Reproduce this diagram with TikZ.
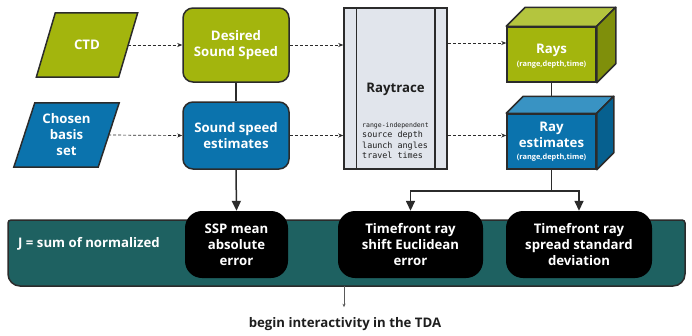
\documentclass[tikz,border=0pt]{standalone}
\usepackage{fontspec}
\setmainfont{Open Sans}
\setmonofont{DejaVu Sans Mono}
\usetikzlibrary{arrows.meta,calc}

\definecolor{olive}{HTML}{A3B50D}
\definecolor{olivetop}{HTML}{B4C53E}
\definecolor{oliveside}{HTML}{7F8F0B}
\definecolor{ocean}{HTML}{0B73AD}
\definecolor{oceantop}{HTML}{3993C3}
\definecolor{oceanside}{HTML}{06608F}
\definecolor{teal}{HTML}{1E6161}
\definecolor{paper}{HTML}{E1E5EC}
\definecolor{linec}{HTML}{2B2B2B}
\definecolor{labelc}{HTML}{1E1E1E}
\newcommand{\raynote}{\bfseries\fontsize{7.4}{9}\selectfont}

\begin{document}
\begin{tikzpicture}[x=1pt,y=-1pt,
  wire/.style={draw=linec, line width=1.5pt},
  dasharrow/.style={draw=linec, line width=0.7pt, dash pattern=on 3pt off 2pt,
    -{Stealth[length=5pt,width=4pt]}},
  solidarrow/.style={draw=linec, line width=1.5pt, -{Triangle[length=10pt,width=9pt]}},
  frame/.style={inner sep=0pt, text=white, align=center,
    font=\bfseries\fontsize{13.2}{16}\selectfont},
  roundbox/.style={frame, draw=linec, line width=1.5pt, rounded corners=10pt,
    minimum width=106pt},
  slantbox/.style={frame, minimum height=64pt},
  cubeface/.style={frame, draw=linec, line width=1.5pt, minimum width=89pt},
  cubeedge/.style={draw=linec, line width=1.5pt, line join=round},
  metric/.style={frame, fill=black, rounded corners=17pt, minimum height=67pt},
]
\useasboundingbox (0,0) rectangle (692,335);

% --- input parallelograms ---
\node[slantbox, minimum width=82pt] (ctd) at (87,45) {};
\path[fill=olive, draw=linec, line width=1.5pt]
  ([xshift=9.5pt]ctd.north west) -- ([xshift=9.5pt]ctd.north east)
  -- ([xshift=-9.5pt]ctd.south east) -- ([xshift=-9.5pt]ctd.south west) -- cycle;
\node[frame] at (ctd) {CTD};

\node[slantbox, minimum width=84pt] (basis) at (66.5,135) {};
\path[fill=ocean, draw=linec, line width=1.5pt]
  ([xshift=10.5pt]basis.north west) -- ([xshift=10.5pt]basis.north east)
  -- ([xshift=-10.5pt]basis.south east) -- ([xshift=-10.5pt]basis.south west) -- cycle;
\node[frame] at (basis) {Chosen\\basis\\set};

% --- sound speed boxes ---
\node[roundbox, fill=olive, minimum height=74pt] (desired) at (236,45) {Desired\\Sound Speed};
\node[roundbox, fill=ocean, minimum height=67pt] (estim) at (236,135.5) {Sound speed\\estimates};
\draw[wire] (desired.south) -- (estim.north);

% --- ray tracer ---
\node[draw=linec, line width=1.5pt, fill=paper, minimum width=103pt,
  minimum height=161pt, inner sep=0pt] (trace) at (395.5,88.5) {};
\draw[wire] ([xshift=13pt]trace.north west) -- ([xshift=13pt]trace.south west);
\draw[wire] ([xshift=-13pt]trace.north east) -- ([xshift=-13pt]trace.south east);
\node[frame, text=labelc] (tracelabel) at (395.5,89) {Raytrace};
\node[anchor=north west, inner sep=0pt, align=left, text=labelc,
  font=\ttfamily\fontsize{8.4}{10.5}\selectfont] (traceinfo) at (362,122)
  {{\fontsize{6.5}{8}\selectfont range-independent}\\source depth\\launch angles\\travel times};

% --- output cuboids ---
\node[cubeface, fill=olive, minimum height=55pt] (rays) at (551.5,54.5) {};
\path[fill=olivetop, cubeedge] (rays.north west) -- ++(19,-19)
  -- ($(rays.north east)+(19,-19)$) -- (rays.north east) -- cycle;
\path[fill=oliveside, cubeedge] (rays.north east) -- ++(19,-19)
  -- ($(rays.south east)+(19,-19)$) -- (rays.south east) -- cycle;
\node[cubeface, minimum height=55pt] at (rays) {};
\node[frame] at ([yshift=-2pt]rays.center) {Rays\\[-3pt]
  {\raynote (range,depth,time)}};

\node[cubeface, fill=ocean, minimum height=55pt] (rayest) at (551.5,141.5) {};
\path[fill=oceantop, cubeedge] (rayest.north west) -- ++(17,-17)
  -- ($(rayest.north east)+(17,-17)$) -- (rayest.north east) -- cycle;
\path[fill=oceanside, cubeedge] (rayest.north east) -- ++(17,-17)
  -- ($(rayest.south east)+(17,-17)$) -- (rayest.south east) -- cycle;
\node[cubeface, minimum height=55pt] at (rayest) {};
\node[frame] at (rayest) {Ray\\estimates\\[-4pt]
  {\raynote (range,depth,time)}};
\draw[wire] (rays.south) -- ($(rayest.north)+(0,-17)$);

% --- dashed data flow ---
\draw[dasharrow] ([xshift=-0.5pt]ctd.east) -- (desired.west);
\draw[dasharrow] ([xshift=-0.5pt]basis.east) -- (estim.west);
\draw[dasharrow] (desired.east) -- (trace.west |- desired.east);
\draw[dasharrow] (estim.east) -- (trace.west |- estim.east);
\draw[dasharrow] ([yshift=2pt]trace.east |- desired.east) -- ([yshift=2pt]rays.west |- desired.east);
\draw[dasharrow] (trace.east |- estim.east) -- (rayest.west |- estim.east);

% --- objective band ---
\path[fill=teal, draw=linec, line width=1.5pt,
  rounded corners=3pt] (8,220) -- (685,220) [rounded corners=12pt] -- (685,286) -- (8,286)
  [rounded corners=3pt] -- cycle;
\node[minimum width=677pt, minimum height=66pt, inner sep=0pt] (band) at (346.5,253) {};
\node[frame, anchor=west] (jlabel) at (18,244) {J = sum of normalized};

\node[metric, minimum width=103pt] (ssp) at (236.5,244.5) {SSP mean\\absolute\\error};
\node[metric, minimum width=145pt] (shift) at (410.5,244.5) {Timefront ray\\shift Euclidean\\error};
\node[metric, minimum width=146pt] (spread) at (579,244.5) {Timefront ray\\spread standard\\deviation};

\draw[solidarrow] (estim.south) -- (ssp.north);
\coordinate (fork) at ($(rayest.south)+(0,21)$);
\draw[wire] (rayest.south) -- (fork);
\draw[solidarrow] (fork) -| (shift.north);
\draw[solidarrow] (fork) -| (spread.north);

% --- hand-off ---
\node[frame, text=labelc] (tda) at (345,324) {begin interactivity in the TDA};
\draw[draw=gray!70!black, line width=0.6pt, -{Stealth[length=3.5pt,width=3pt]}]
  ([xshift=-2.5pt]band.south) -- ($(tda.north)+(-1,-10)$);
\end{tikzpicture}
\end{document}
